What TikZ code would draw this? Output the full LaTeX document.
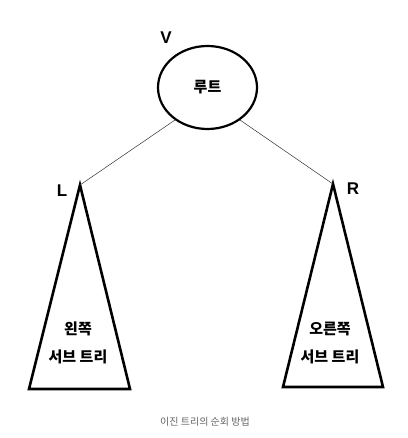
\documentclass[tikz,border=0pt]{standalone}
\usepackage{fontspec}
\setmainfont{Liberation Sans}
\newfontfamily\kr{Noto Sans CJK KR}
\usetikzlibrary{shapes.geometric}

\begin{document}
\begin{tikzpicture}[x=1pt,y=-1pt]

\useasboundingbox[fill=white] (0,0) rectangle (407,438);

\tikzset{
  subtree/.style={line width=2.6pt,line join=miter},
  label/.style={font=\bfseries\fontsize{17}{17}\selectfont},
  kor/.style={font=\kr\bfseries\fontsize{15}{17}\selectfont}
}

\node[draw,line width=2.2pt,ellipse,minimum width=99pt,minimum height=83pt,kor] (root) at (207.5,87.5) {루트};

\coordinate (lt) at (80,185);
\coordinate (rt) at (333,184);

\draw[subtree] (lt)--(130,389)--(29,389)--cycle;
\draw[subtree] (rt)--(383,387)--(283,387)--cycle;

\draw[line width=0.5pt,black!80] (root.225)--(lt);
\draw[line width=0.5pt,black!80] (root.-45)--(rt);

\node[label] (v) at (166,38) {V};
\node[label] (l) at (62,191) {L};
\node[label] (r) at (353,189) {R};

\node[kor] (lname) at (78,329) {왼쪽};
\node[kor] (lsub) at (78,357) {서브 트리};
\node[kor] (rname) at (330,329) {오른쪽};
\node[kor] (rsub) at (330,357) {서브 트리};

\node[font=\kr\fontsize{10}{11}\selectfont,text=black!60] (cap) at (205,422) {이진 트리의 순회 방법};

\end{tikzpicture}
\end{document}
